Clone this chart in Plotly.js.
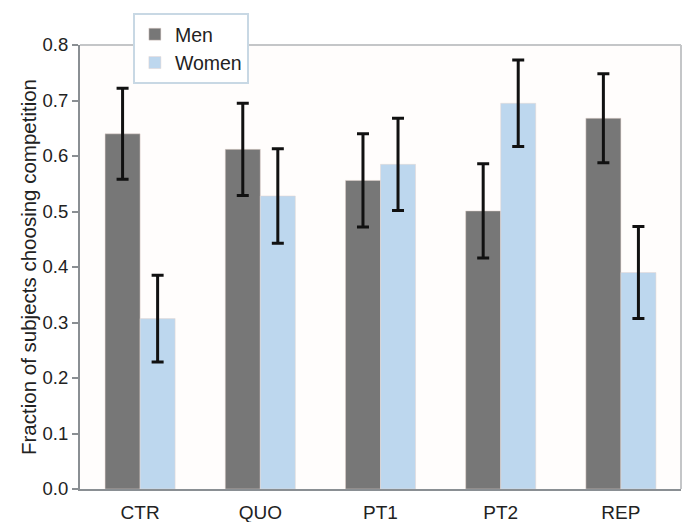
<!DOCTYPE html>
<html><head><meta charset="utf-8">
<script src="https://cdn.plot.ly/plotly-3.0.1.min.js"></script>
<style>body{margin:0;background:#fff}#c{width:687px;height:522px}</style>
</head><body><div id="c"></div>
<script>
const categories = ["CTR","QUO","PT1","PT2","REP"];
const menValues = [0.640, 0.612, 0.556, 0.501, 0.668];
const menErrors = [0.082, 0.083, 0.084, 0.085, 0.080];
const womenValues = [0.307, 0.528, 0.585, 0.695, 0.390];
const womenErrors = [0.078, 0.085, 0.083, 0.078, 0.083];
const yTicks = [0,0.1,0.2,0.3,0.4,0.5,0.6,0.7,0.8];

const errStyle = {type:"data", visible:true, color:"#111111", thickness:3, width:6};
const traces = [
  {type:"bar", name:"Men", x:categories, y:menValues,
   marker:{color:"#777777", line:{color:"#e6d6d0", width:0.5}},
   error_y:Object.assign({array:menErrors}, errStyle)},
  {type:"bar", name:"Women", x:categories, y:womenValues,
   marker:{color:"#bdd7ee", line:{color:"#e6d6d0", width:0.5}},
   error_y:Object.assign({array:womenErrors}, errStyle)}
];
const fam = "Liberation Sans, Arial, sans-serif";
const layout = {
  width:687, height:522,
  margin:{l:80, r:6, t:45, b:33},
  paper_bgcolor:"#ffffff", plot_bgcolor:"#fffdfc",
  font:{family:fam, size:18, color:"#222"},
  barmode:"group", bargap:0.417, bargroupgap:0,
  showlegend:true,
  legend:{x:0.088, y:1.072, xanchor:"left", yanchor:"top",
    bgcolor:"#ffffff", bordercolor:"#c8d8e4", borderwidth:2,
    font:{family:fam, size:19.5, color:"#222"}, tracegroupgap:0},
  xaxis:{showgrid:false, zeroline:false, showline:true, linecolor:"#8a8f93", linewidth:2,
    ticks:"outside", ticklen:5, tickcolor:"rgba(0,0,0,0)", tickfont:{family:fam, size:19, color:"#222"}},
  yaxis:{range:[0,0.8], tickvals:yTicks, tickformat:".1f", showgrid:false, zeroline:false,
    showline:true, linecolor:"#8a8f93", linewidth:2, ticks:"outside", ticklen:6,
    tickcolor:"#8a8f93", tickwidth:2, tickfont:{family:fam, size:18.5, color:"#222"},
    title:{text:"Fraction of subjects choosing competition", font:{family:fam, size:20.5, color:"#222"}, standoff:0}},
  shapes:[
    {type:"line", xref:"paper", yref:"paper", x0:0, x1:1, y0:1, y1:1, line:{color:"#c4c6c8", width:2}},
    {type:"line", xref:"paper", yref:"paper", x0:1, x1:1, y0:0, y1:1, line:{color:"#c4c6c8", width:2}}
  ]
};
Plotly.newPlot("c", traces, layout, {displayModeBar:false, staticPlot:true});
</script></body></html>
